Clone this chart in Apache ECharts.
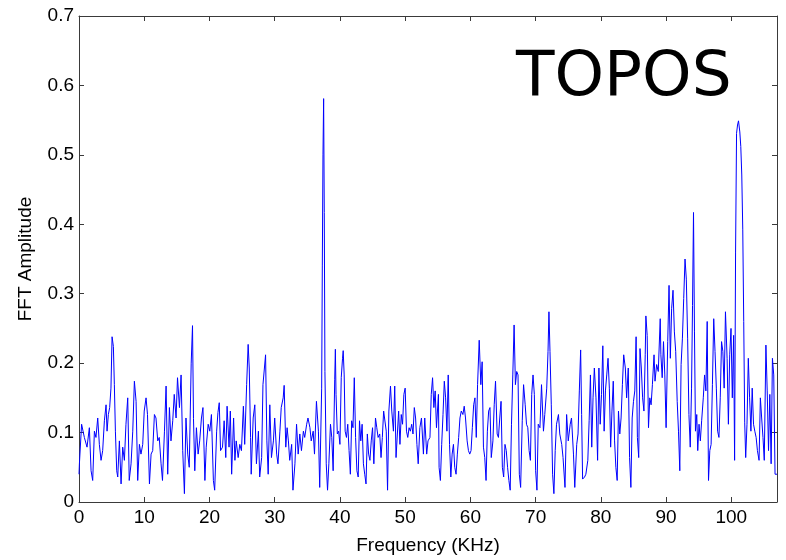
<!DOCTYPE html>
<html>
<head>
<meta charset="utf-8">
<script src="https://cdn.jsdelivr.net/npm/echarts@6/dist/echarts.min.js"></script>
<style>html,body{margin:0;padding:0;background:#fff}#c{width:786px;height:560px}</style>
</head>
<body>
<div id="c"></div>
<script>
var freqKHz = [
0.00,0.06,0.40,0.82,1.23,1.59,1.85,2.10,2.36,2.60,2.87,3.12,3.38,3.63,3.89,4.15,4.30,4.50,4.70,4.90,
5.07,5.27,5.42,5.58,5.78,5.94,6.19,6.45,6.70,6.96,7.20,7.47,7.70,7.98,8.24,8.49,8.75,9.00,9.26,9.50,
9.77,10.00,10.28,10.50,10.80,11.05,11.30,11.56,11.80,12.07,12.30,12.58,12.80,13.10,13.35,13.60,13.86,14.10,14.37,14.60,
14.88,15.10,15.40,15.65,15.90,16.16,16.40,16.67,16.90,17.20,17.40,17.55,
17.75,18.00,18.26,18.50,18.77,19.00,19.30,19.50,19.80,20.05,20.30,20.60,20.80,21.10,21.30,21.50,21.70,22.00,22.25,22.50,
22.70,23.00,23.20,23.40,23.70,23.90,24.10,24.40,24.65,24.90,25.20,25.40,25.70,25.93,26.10,26.30,26.40,26.70,26.95,27.20,
27.50,27.70,28.00,28.20,28.60,28.80,29.00,29.25,29.50,29.80,30.00,30.30,30.50,30.80,31.00,31.30,31.45,31.70,31.90,32.10,
32.30,32.60,32.80,33.10,33.35,33.60,33.85,34.10,34.40,34.60,34.90,35.10,35.40,35.60,35.90,
36.10,36.40,36.70,36.90,37.20,37.30,37.40,37.50,37.60,37.70,37.90,38.10,38.30,38.55,38.75,38.96,39.20,39.30,39.40,39.60,
39.80,40.00,40.20,40.40,40.50,40.65,40.80,41.00,41.20,41.40,41.60,41.80,42.00,42.20,42.40,42.60,42.80,43.00,43.20,43.40,
43.60,43.80,44.00,44.20,44.40,44.60,44.80,45.00,45.20,45.45,45.65,45.85,46.10,46.30,46.50,46.70,46.90,47.10,47.30,47.50,
47.75,47.95,48.20,48.40,48.60,48.80,49.00,49.20,49.40,49.60,49.80,50.00,50.20,50.40,50.60,50.80,51.00,51.20,51.40,51.60,
51.80,52.00,52.25,52.50,52.80,
53.00,53.30,53.50,53.80,54.00,54.20,54.40,54.60,54.80,55.10,55.20,55.40,55.60,55.80,56.00,56.20,56.40,56.60,56.80,57.00,
57.20,57.40,57.60,57.80,58.00,58.20,58.40,58.60,58.85,59.05,59.25,59.50,59.70,59.90,60.10,60.30,60.50,60.70,60.90,61.10,
61.35,61.60,61.80,62.00,62.20,62.40,62.60,62.80,63.00,63.20,63.45,63.65,63.85,64.10,64.30,64.50,64.70,64.90,65.10,65.30,
65.50,65.70,65.90,66.10,66.30,66.50,66.70,66.90,67.10,67.30,67.50,67.70,67.95,68.15,68.40,68.60,68.80,69.00,69.20,69.40,
69.60,69.80,70.00,70.20,70.40,
70.66,70.90,71.20,71.40,71.70,71.90,72.04,72.20,72.40,72.60,72.80,73.00,73.20,73.50,73.70,74.00,74.20,74.50,74.75,75.00,
75.30,75.50,75.80,76.00,76.30,76.50,76.70,76.90,77.05,77.20,77.50,77.70,78.00,78.20,78.40,78.60,78.80,79.00,79.25,79.50,
79.70,79.90,80.10,80.30,80.50,80.70,80.90,81.10,81.30,81.50,81.70,81.90,82.10,82.30,82.50,82.70,82.90,83.10,83.30,83.50,
83.75,83.95,84.20,84.40,84.60,84.80,85.00,85.20,85.40,85.60,85.80,86.00,86.20,86.40,86.60,86.80,86.90,87.10,87.30,87.50,
87.70,87.90,88.15,
88.30,88.55,88.80,89.10,89.20,89.40,89.60,89.80,90.00,90.25,90.45,90.65,90.85,91.06,91.27,91.47,91.70,91.90,92.10,92.30,
92.50,92.70,92.90,93.10,93.30,93.50,93.70,93.90,94.05,94.20,94.35,94.50,94.70,94.85,95.05,95.25,95.45,95.70,95.90,96.10,
96.30,96.50,96.70,96.90,97.10,97.30,97.50,97.70,97.90,98.10,98.30,98.50,98.70,98.90,99.10,99.35,99.55,99.75,99.95,100.15,
100.35,100.50,100.65,100.80,100.95,101.10,101.30,101.45,101.60,101.75,101.90,102.05,102.20,102.40,102.60,102.80,103.00,103.20,103.40,103.60,
103.80,104.00,104.25,104.45,104.65,104.85,105.05,105.30,105.50,105.70,105.90,106.10,106.30,106.50,106.70,107.00
];
var amplitude = [
0.040,0.055,0.112,0.093,0.079,0.107,0.045,0.031,0.102,0.093,0.121,0.083,0.060,0.074,0.117,0.140,0.102,0.126,0.136,0.164,
0.238,0.224,0.169,0.102,0.045,0.036,0.088,0.026,0.079,0.060,0.112,0.150,0.031,0.055,0.102,0.174,0.145,0.031,0.083,0.069,
0.083,0.131,0.150,0.126,0.026,0.069,0.074,0.126,0.121,0.088,0.093,0.055,0.031,0.102,0.167,0.040,0.136,0.088,0.117,0.155,
0.121,0.179,0.136,0.183,0.074,0.012,0.121,0.069,0.050,0.200,0.254,0.120,
0.045,0.107,0.069,0.088,0.121,0.136,0.031,0.079,0.112,0.102,0.126,0.031,0.017,0.102,0.129,0.143,0.074,0.079,0.117,0.064,
0.138,0.079,0.131,0.040,0.121,0.060,0.088,0.064,0.083,0.074,0.138,0.083,0.169,0.227,0.193,0.093,0.040,0.121,0.140,0.055,
0.102,0.036,0.064,0.169,0.212,0.088,0.040,0.140,0.064,0.088,0.121,0.069,0.055,0.102,0.136,0.150,0.168,0.079,0.107,0.088,
0.060,0.083,0.017,0.055,0.112,0.069,0.098,0.074,0.102,0.093,0.112,0.121,0.107,0.088,0.102,
0.069,0.145,0.102,0.021,0.164,0.340,0.500,0.581,0.417,0.188,0.055,0.017,0.055,0.112,0.093,0.045,0.176,0.220,0.155,0.098,
0.102,0.083,0.179,0.207,0.218,0.183,0.102,0.093,0.112,0.074,0.040,0.117,0.107,0.179,0.093,0.045,0.036,0.117,0.088,0.112,
0.055,0.040,0.026,0.098,0.069,0.060,0.088,0.107,0.055,0.121,0.107,0.093,0.098,0.064,0.093,0.131,0.131,0.102,0.017,0.131,
0.167,0.131,0.102,0.167,0.064,0.064,0.131,0.083,0.126,0.112,0.155,0.164,0.102,0.093,0.107,0.102,0.112,0.098,0.136,0.121,
0.083,0.055,0.107,0.121,0.069,
0.121,0.069,0.088,0.093,0.155,0.179,0.136,0.160,0.107,0.155,0.050,0.031,0.083,0.126,0.174,0.150,0.102,0.183,0.083,0.036,
0.069,0.083,0.050,0.040,0.069,0.093,0.121,0.131,0.126,0.138,0.121,0.088,0.074,0.069,0.074,0.107,0.140,0.150,0.093,0.169,
0.233,0.169,0.202,0.079,0.064,0.031,0.102,0.131,0.136,0.064,0.088,0.140,0.174,0.098,0.093,0.121,0.145,0.050,0.036,0.083,
0.074,0.050,0.031,0.017,0.112,0.183,0.255,0.169,0.188,0.183,0.040,0.021,0.117,0.169,0.140,0.112,0.107,0.074,0.060,0.155,
0.183,0.155,0.045,0.017,0.112,
0.107,0.169,0.102,0.126,0.164,0.217,0.274,0.217,0.140,0.040,0.012,0.074,0.112,0.126,0.098,0.083,0.064,0.021,0.126,0.088,
0.112,0.121,0.069,0.021,0.083,0.098,0.160,0.219,0.126,0.033,0.036,0.040,0.060,0.117,0.183,0.079,0.150,0.193,0.150,0.060,
0.193,0.112,0.155,0.225,0.102,0.160,0.183,0.207,0.164,0.079,0.131,0.174,0.088,0.050,0.031,0.131,0.098,0.121,0.169,0.212,
0.193,0.150,0.193,0.064,0.021,0.121,0.145,0.160,0.238,0.093,0.064,0.221,0.193,0.150,0.131,0.212,0.268,0.240,0.107,0.150,
0.140,0.169,0.212,
0.174,0.198,0.188,0.264,0.212,0.179,0.231,0.183,0.107,0.231,0.312,0.207,0.279,0.305,0.245,0.217,0.145,0.102,0.045,0.198,
0.236,0.293,0.350,0.321,0.236,0.126,0.079,0.164,0.283,0.417,0.245,0.102,0.126,0.074,0.112,0.088,0.117,0.150,0.183,0.160,
0.260,0.031,0.074,0.083,0.169,0.264,0.217,0.164,0.102,0.093,0.150,0.231,0.217,0.164,0.274,0.207,0.112,0.212,0.250,0.150,
0.240,0.060,0.360,0.531,0.543,0.549,0.533,0.512,0.471,0.393,0.260,0.114,0.064,0.112,0.207,0.150,0.102,0.164,0.112,0.102,
0.093,0.074,0.060,0.150,0.121,0.093,0.060,0.226,0.160,0.074,0.155,0.055,0.207,0.183,0.040,0.040
];
var xTicks = [0,10,20,30,40,50,60,70,80,90,100];
var yTicks = [0,0.1,0.2,0.3,0.4,0.5,0.6,0.7];
var xTitle = 'Frequency (KHz)';
var yTitle = 'FFT Amplitude';
var label = 'TOPOS';

var pts = freqKHz.map(function(f,i){return [f, amplitude[i]];});
var ff = 'Liberation Sans, Arial, Helvetica, sans-serif';
var axCol = '#3a3a3a';
function xa(pos, show){
  return {type:'value', position:pos, min:0, max:107, interval:10,
    axisLine:{show:true, onZero:false, lineStyle:{color:axCol, width:1}},
    axisTick:{show:true, inside:true, length:5, lineStyle:{color:axCol}},
    axisLabel:{show:show, color:'#000', fontFamily:ff, fontSize:19, margin:6,
      formatter:function(v){return xTicks.indexOf(v)>=0?String(v):'';}},
    splitLine:{show:false},
    name: show?xTitle:'', nameLocation:'middle', nameGap:34,
    nameTextStyle:{color:'#000', fontFamily:ff, fontSize:19}};
}
function ya(pos, show){
  return {type:'value', position:pos, min:0, max:0.7, interval:0.1,
    axisLine:{show:true, onZero:false, lineStyle:{color:axCol, width:1}},
    axisTick:{show:true, inside:true, length:5, lineStyle:{color:axCol}},
    axisLabel:{show:show, color:'#000', fontFamily:ff, fontSize:19, margin:5,
      formatter:function(v){var r=Math.round(v*10)/10; return String(r);}},
    splitLine:{show:false},
    name: show?yTitle:'', nameLocation:'middle', nameGap:44,
    nameTextStyle:{color:'#000', fontFamily:ff, fontSize:19}};
}
var chart = echarts.init(document.getElementById('c'), null, {renderer:'canvas'});
chart.setOption({
  backgroundColor:'#fff',
  animation:false,
  grid:{left:79, right:9, top:16, bottom:55, containLabel:false},
  xAxis:[xa('bottom', true), xa('top', false)],
  yAxis:[ya('left', true), ya('right', false)],
  series:[{type:'line', data:pts, xAxisIndex:0, yAxisIndex:0, showSymbol:false, symbol:'none',
    sampling:null, lineStyle:{color:'#0000ff', width:1}, z:1}],
  graphic:[{type:'text', x:516, y:79, z:10,
    style:{text:label, font:'63px "DejaVu Sans"', fill:'#000', verticalAlign:'middle', align:'left'}}]
});
</script>
</body>
</html>
